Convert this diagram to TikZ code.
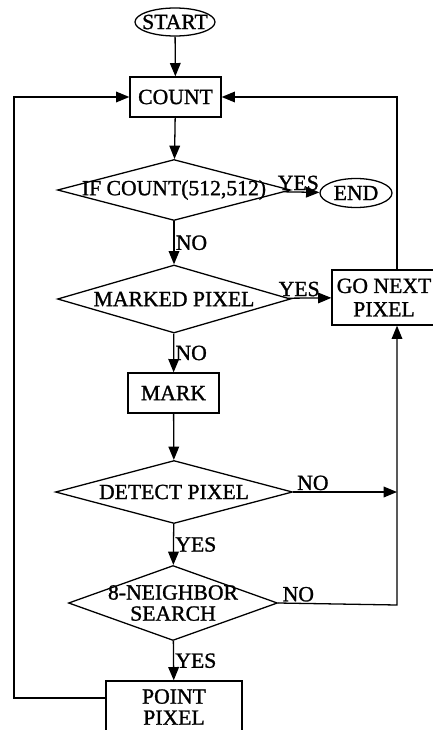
\documentclass[tikz,border=0pt]{standalone}
\usepackage{fontspec}
\setmainfont{Liberation Serif}[BoldFont={Liberation Serif},BoldFeatures={FakeBold=1.2}]
\usetikzlibrary{shapes.geometric,arrows.meta}

\begin{document}
\begin{tikzpicture}[x=0.03cm,y=-0.03cm,
			font=\bfseries\fontsize{18.5}{20}\selectfont,
			line width=1.1pt,
			>={Triangle[length=0.4cm,width=0.32cm]}]
			\tikzstyle{box}=[draw,rectangle,inner sep=0pt]
			\tikzstyle{dec}=[draw,diamond,inner sep=0pt]
			\tikzstyle{oval}=[draw,ellipse,inner sep=0pt]
			\tikzstyle{yn}=[inner sep=1pt]
			\useasboundingbox (0,0) rectangle (433,730);
			\node [oval,minimum width=2.4cm,minimum height=0.84cm,label=center:START] (start) at (175,22) {};
			\node [box,minimum width=2.73cm,minimum height=1.2cm,label=center:COUNT] (count) at (175.5,97) {};
			\node [dec,minimum width=6.99cm,minimum height=1.83cm,label=center:{IF COUNT(512,512)}] (ifc) at (174,190) {};
			\node [oval,minimum width=2.16cm,minimum height=0.87cm,label=center:END] (end) at (356,193) {};
			\node [dec,minimum width=6.99cm,minimum height=2.04cm,label=center:{MARKED PIXEL}] (marked) at (174,299) {};
			\node [box,minimum width=3.12cm,minimum height=1.65cm,
				label={[align=center]center:GO NEXT\\PIXEL}] (gonext) at (384,297.5) {};
			\node [box,minimum width=2.73cm,minimum height=1.2cm,label=center:MARK] (mark) at (173.5,393) {};
			\node [dec,minimum width=7.11cm,minimum height=1.89cm,label=center:{DETECT PIXEL}] (detect) at (174,492) {};
			\node [dec,minimum width=6.27cm,minimum height=2.25cm,
				label={[align=center,font=\bfseries\fontsize{18.5}{18}\selectfont]center:8-NEIGHBOR\\SEARCH}] (nbr) at (173,603) {};
			\node [box,minimum width=4.08cm,minimum height=1.56cm,
				label={[align=center,font=\bfseries\fontsize{18.5}{18}\selectfont]center:POINT\\PIXEL}] (point) at (174,707) {};
			\coordinate (dx) at (397,492);
			\coordinate (rx) at (397,605);
			\coordinate (lx) at (14,698);
			\draw[->] (start) -- (count);
			\draw[->] (count) -- (ifc);
			\draw[->] (ifc) -- node[yn,above,pos=0.4] {YES} (end);
			\draw[->] (ifc) -- node[yn,right] {NO} (marked);
			\draw[->] (marked) -- node[yn,above,pos=0.25] {YES} (gonext);
			\draw[->] (marked) -- node[yn,right] {NO} (mark);
			\draw[->] (mark) -- (detect);
			\draw[->] (detect) -- node[yn,above,pos=0.19] {NO} (dx);
			\draw[->] (detect) -- node[yn,right] {YES} (nbr);
			\draw[->] (nbr) -- node[yn,right] {YES} (point);
			\draw[->] (nbr.east) -- node[yn,above,pos=0.17] {NO} (rx) -- (rx |- gonext.south);
			\draw[->] (gonext.north -| rx) |- (count.east);
			\draw[->] (point.west |- lx) -- (lx) |- (count.west);
		\end{tikzpicture}
\end{document}
